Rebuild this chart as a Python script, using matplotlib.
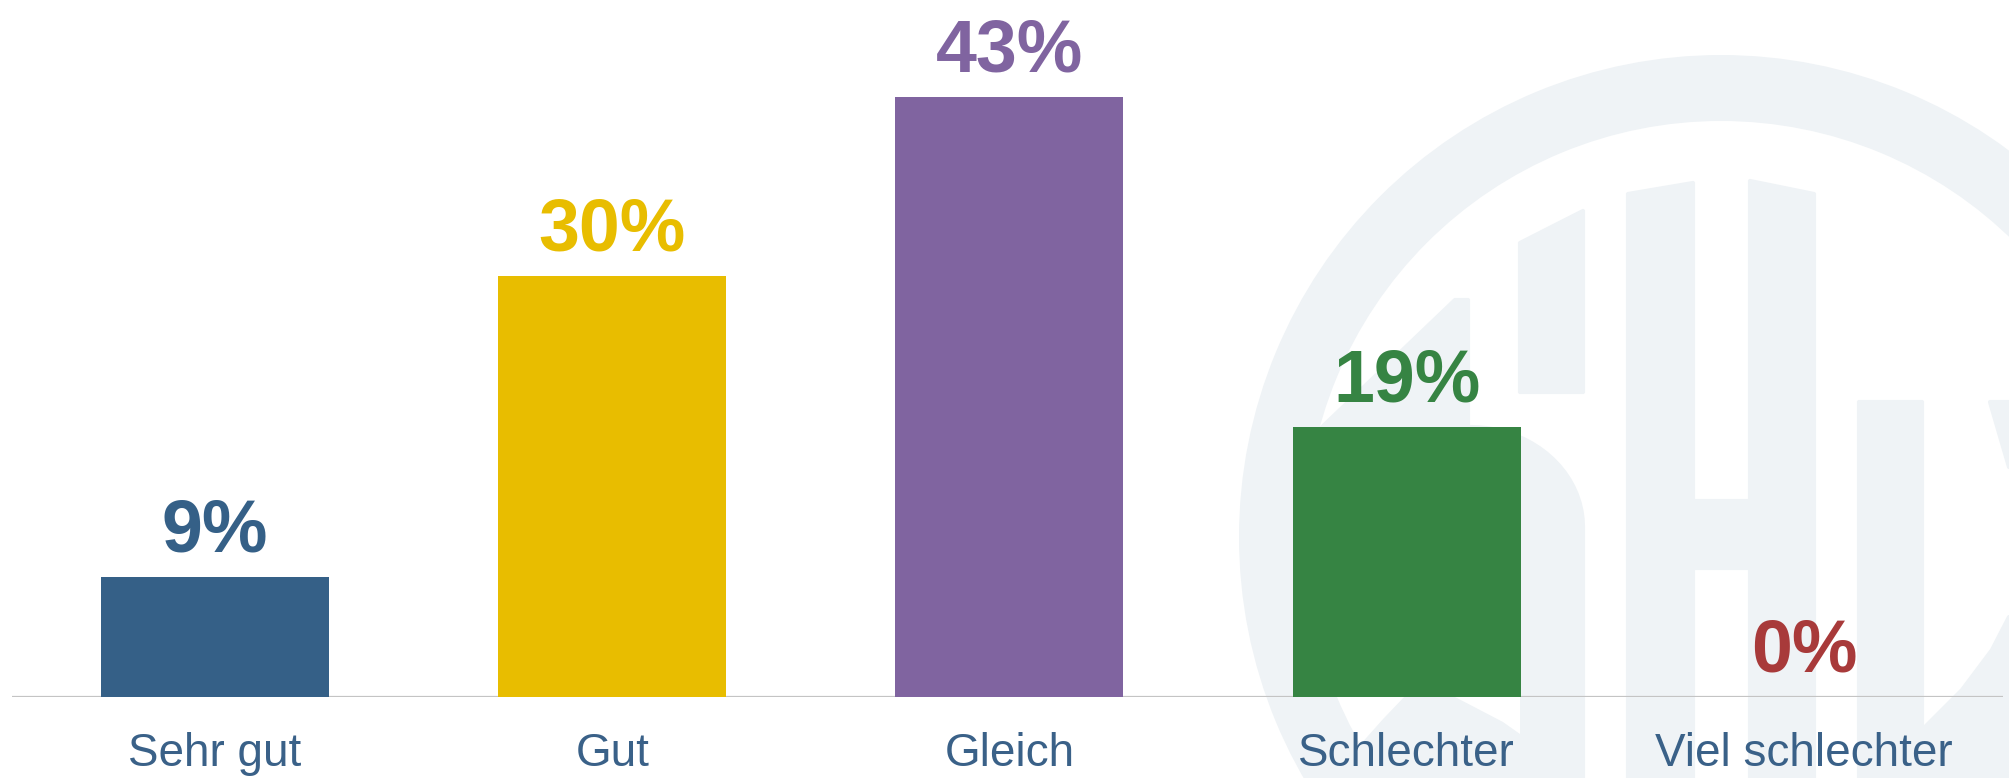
import numpy as np
import matplotlib
matplotlib.use("Agg")
import matplotlib.pyplot as plt
from matplotlib.patches import Wedge, Polygon

# ---- data ----
categories = ["Sehr gut", "Gut", "Gleich", "Schlechter", "Viel schlechter"]
values = [8.6, 30.1, 42.9, 19.3, 0.0]
value_labels = ["9%", "30%", "43%", "19%", "0%"]
bar_colors = ["#356087", "#E8BD00", "#8064A0", "#368443", "#A83A3A"]
cat_color = "#3A6188"

plt.rcParams['font.family'] = ['Liberation Sans', 'DejaVu Sans']

W, H = 2009, 778
fig = plt.figure(figsize=(W / 100, H / 100), dpi=100)
fig.patch.set_facecolor("white")

# ---- background watermark (decoration) ----
bg = fig.add_axes([0, 0, 1, 1], zorder=0)
bg.set_xlim(0, W)
bg.set_ylim(H, 0)
bg.axis('off')
wm = "#EFF3F6"
bg.add_patch(Wedge((1721, 537), 482, 0, 360, width=66, color=wm, lw=0))

t = np.linspace(np.pi / 2, 0, 20)
arc = [(1470 + 113 * np.cos(a), 527 - 100 * np.sin(a)) for a in t]
shapes = [
    # S
    [(1319, 430), (1455, 300), (1468, 300), (1468, 440), (1310, 440)],
    [(1520, 243), (1583, 211), (1583, 392), (1520, 392)],
    arc + [(1583, 778), (1335, 778), (1360, 748), (1385, 720), (1407, 697), (1407, 430)],
    # H
    [(1628, 194), (1693, 183), (1693, 778), (1628, 778)],
    [(1750, 181), (1814, 194), (1814, 778), (1750, 778)],
    [(1690, 501), (1753, 501), (1753, 568), (1690, 568)],
    # V
    [(1859, 402), (1922, 402), (1922, 778), (1859, 778)],
    [(1990, 402), (2009, 402), (2009, 467)],
    [(2009, 617), (2009, 778), (1922, 778), (1922, 730), (1962, 690), (1992, 650)],
]
for s in shapes:
    bg.add_patch(Polygon(s, closed=True, facecolor=wm, edgecolor=wm, lw=3,
                         joinstyle='round'))
bg.add_patch(Polygon([(1455, 697), (1480, 710), (1503, 722), (1520, 734), (1520, 697)],
                     closed=True, facecolor="white", edgecolor="none"))

# ---- main chart ----
left_px, right_px, axis_px = 12, 2003, 697
ax = fig.add_axes([left_px / W, (H - axis_px) / H, (right_px - left_px) / W, axis_px / H],
                  zorder=1)
ax.set_facecolor("none")
x = np.arange(len(categories))
ax.bar(x, values, width=0.574, color=bar_colors, zorder=3)
ax.axhline(0, color="#C4C4C4", lw=1.6, zorder=2)
ax.set_xlim(-0.511, 4.501)
ax.set_ylim(0, 49.8)

for xi, v, lab, c in zip(x, values, value_labels, bar_colors):
    ax.annotate(lab, (xi, v), xytext=(0, 18), textcoords="offset points",
                ha="center", va="baseline", fontsize=53, fontweight="bold",
                color=c, annotation_clip=False)

ax.set_xticks(x, categories)
ax.tick_params(axis='x', length=0, pad=25, labelsize=33, labelcolor=cat_color)
ax.set_yticks([])
for sp in ax.spines.values():
    sp.set_visible(False)

fig.savefig("out.png", dpi=100, facecolor="white")
